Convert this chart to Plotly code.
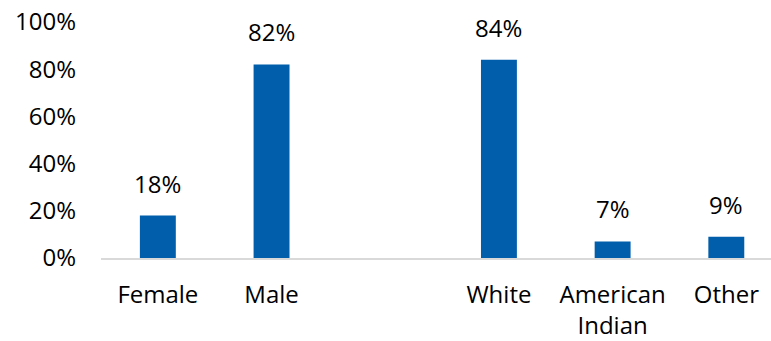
import plotly.graph_objects as go

# Shares by gender and by race (percent)
gender_labels = ["Female", "Male"]
gender_share = [18, 82]
race_labels = ["White", "American Indian", "Other"]
race_share = [84, 7, 9]

y_ticks = [0, 20, 40, 60, 80, 100]
y_tick_labels = [f"{v}%" for v in y_ticks]

# One blank slot separates the two groups on the category axis
spacer = " "
categories = gender_labels + [spacer] + race_labels
values = gender_share + [None] + race_share
tick_text = [c.replace(" ", "<br>") if c != spacer else "" for c in categories]

BAR_COLOR = "#005EAA"
FONT = "Open Sans"
FONT_SIZE = 24

fig = go.Figure(
    go.Bar(
        x=categories,
        y=values,
        marker=dict(color=BAR_COLOR, line=dict(width=0)),
        hoverinfo="skip",
    )
)

# Value labels above each bar
for cat, val in zip(categories, values):
    if val is None:
        continue
    fig.add_annotation(
        x=cat, y=val, text=f"{val}%",
        showarrow=False, yanchor="bottom", yshift=14,
        font=dict(family=FONT, size=FONT_SIZE, color="#000000"),
    )

fig.update_layout(
    width=771, height=341,
    margin=dict(l=101, r=0, t=22, b=83),
    paper_bgcolor="white", plot_bgcolor="white",
    bargap=0.684,
    showlegend=False,
    font=dict(family=FONT, size=FONT_SIZE, color="#000000"),
)

fig.update_xaxes(
    type="category",
    categoryorder="array", categoryarray=categories,
    tickvals=categories, ticktext=tick_text,
    range=[-0.5, 5.393],
    showline=True, linecolor="#D9D9D9", linewidth=2,
    showgrid=False, ticks="", ticklabelstandoff=14,
    zeroline=False,
)

fig.update_yaxes(
    range=[0, 100],
    tickvals=y_ticks, ticktext=y_tick_labels,
    showgrid=False, zeroline=False, showline=False,
    ticks="", ticklabelstandoff=24,
)

fig.write_html("out.html")
